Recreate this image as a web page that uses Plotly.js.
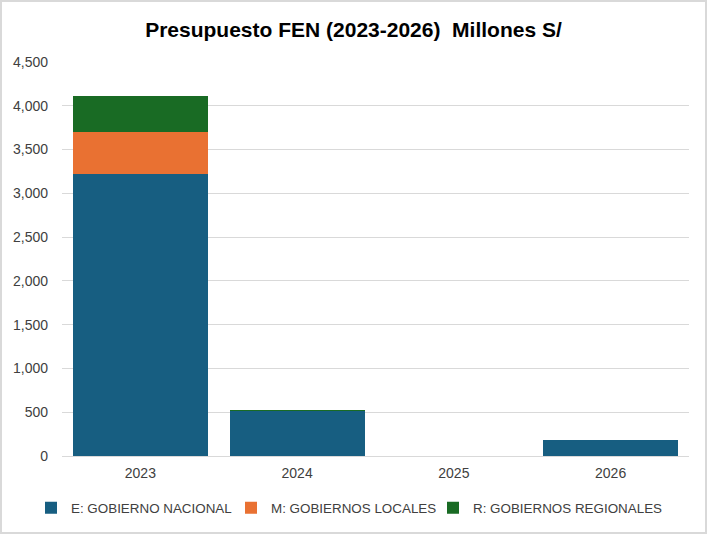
<!DOCTYPE html>
<html>
<head>
<meta charset="utf-8">
<script src="https://cdn.plot.ly/plotly-3.0.1.min.js"></script>
<style>
  html, body { margin: 0; padding: 0; background: #fff; }
  #chart { width: 707px; height: 534px; outline: 2px solid #d9d9d9; outline-offset: -2px; }
</style>
</head>
<body>
<div id="chart"></div>
<script>
// years on the x axis
const years = ['2023', '2024', '2025', '2026'];
// millones S/ by level of government
const nacional = [3216, 510, 0, 179];
const locales = [486, 0, 0, 0];
const regionales = [408, 11, 0, 0];

const names = ['E: GOBIERNO NACIONAL', 'M: GOBIERNOS LOCALES', 'R: GOBIERNOS REGIONALES'];
const colors = ['#175e81', '#e97132', '#196b24'];
// one legend per series so the row never wraps; left edge of each label in px
const legendIds = ['legend', 'legend2', 'legend3'];
const legendTextX = [71, 271, 473];

const data = [nacional, locales, regionales].map((y, i) => ({
  type: 'bar',
  x: years,
  y: y,
  name: names[i],
  legend: legendIds[i],
  showlegend: true,
  marker: { color: colors[i] },
  hovertemplate: '%{x}: %{y:,}<extra>' + names[i] + '</extra>',
}));

const layout = {
  width: 707,
  height: 534,
  showlegend: true,
  barmode: 'stack',
  bargap: 0.139,
  margin: { l: 62, r: 18, t: 62, b: 78 },
  paper_bgcolor: 'rgba(0,0,0,0)',
  plot_bgcolor: 'rgba(0,0,0,0)',
  font: { family: 'Liberation Sans, Arial, sans-serif', size: 14, color: '#404040' },
  title: {
    text: '<b>Presupuesto FEN (2023-2026)  Millones S/</b>',
    font: { size: 21, color: '#000' },
    x: 0.5,
    xref: 'container',
    xanchor: 'center',
    y: 0.944,
    yanchor: 'middle',
  },
  xaxis: {
    type: 'category',
    showgrid: false,
    showline: true,
    linecolor: '#d9d9d9',
    linewidth: 1,
    ticks: '',
    ticklabelstandoff: 4,
    tickfont: { size: 14 },
  },
  yaxis: {
    range: [0, 4500],
    dtick: 500,
    tickformat: ',d',
    gridcolor: '#d9d9d9',
    zeroline: false,
    showline: false,
    ticks: '',
    ticklabelstandoff: 13,
    tickfont: { size: 14 },
  },
};

legendIds.forEach((id, i) => {
  layout[id] = {
    orientation: 'h',
    xref: 'container',
    yref: 'container',
    x: (legendTextX[i] - 40) / 707,
    xanchor: 'left',
    y: 1 - 508 / 534,
    yanchor: 'middle',
    font: { size: 13.4, color: '#404040' },
    itemwidth: 30,
    bgcolor: 'rgba(0,0,0,0)',
  };
});

Plotly.newPlot('chart', data, layout, { displayModeBar: false, staticPlot: true });
</script>
</body>
</html>
